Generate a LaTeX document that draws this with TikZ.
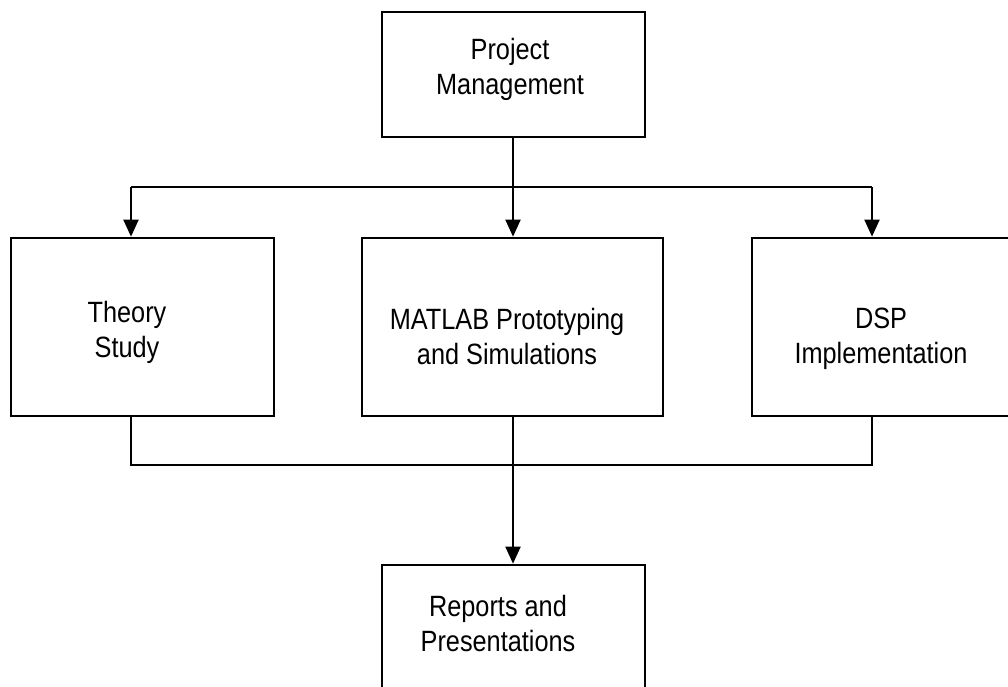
\documentclass[tikz,border=0pt]{standalone}
\usepackage{fontspec}
\setmainfont{Liberation Sans}
\usetikzlibrary{arrows.meta}
\newcommand\stxt[1]{\scalebox{1}[1.16]{\begin{tabular}{@{}c@{}}#1\end{tabular}}}
\begin{document}
\begin{tikzpicture}[x=1pt,y=-1pt,
  box/.style={draw,line width=2.7pt,rectangle,inner sep=0pt},
  lbl/.style={inner sep=0pt,font=\fontsize{25.3}{30}\selectfont},
  conn/.style={line width=2pt},
  arr/.style={conn,-{Triangle[length=17pt,width=15pt]}}]
\useasboundingbox (0,0) rectangle (1008,686);
\fill[white] (0,0) rectangle (1008,686);
\clip (0,0) rectangle (1008,686);
% boxes
\node[box,minimum width=263pt,minimum height=125pt] (pm) at (513.5,74.5) {};
\node[box,minimum width=263pt,minimum height=178pt] (theory) at (142.5,327) {};
\node[box,minimum width=301pt,minimum height=178pt] (matlab) at (512.5,327) {};
\node[box,minimum width=268pt,minimum height=178pt] (dsp) at (886,327) {};
\node[box,minimum width=263pt,minimum height=155pt] (reports) at (513.5,642.5) {};
% labels
\node[lbl] (tpm) at (510,70) {\stxt{Project\\Management}};
\node[lbl] (tth) at (127,333) {\stxt{Theory\\Study}};
\node[lbl] (tma) at (507,340) {\stxt{MATLAB Prototyping\\and Simulations}};
\node[lbl] (tds) at (881,339) {\stxt{DSP\\Implementation}};
\node[lbl] (tre) at (498,627) {\stxt{Reports and\\Presentations}};
% connector points
\coordinate (hub) at (513,187);
\coordinate (tl) at (131,187);
\coordinate (tr) at (872,187);
\coordinate (bl) at (131,465);
\coordinate (br) at (872,465);
\coordinate (bm) at (513,465);
% connectors
\draw[conn] (pm.south -| hub) -- (hub);
\draw[conn] (tl) -- (tr);
\draw[arr] (tl) -- (tl |- theory.north);
\draw[arr] (hub) -- (hub |- matlab.north);
\draw[arr] (tr) -- (tr |- dsp.north);
\draw[conn] (theory.south -| bl) -- (bl) -- (br) -- (dsp.south -| br);
\draw[conn] (matlab.south -| bm) -- (bm);
\draw[arr] (bm) -- (bm |- reports.north);
\end{tikzpicture}
\end{document}
